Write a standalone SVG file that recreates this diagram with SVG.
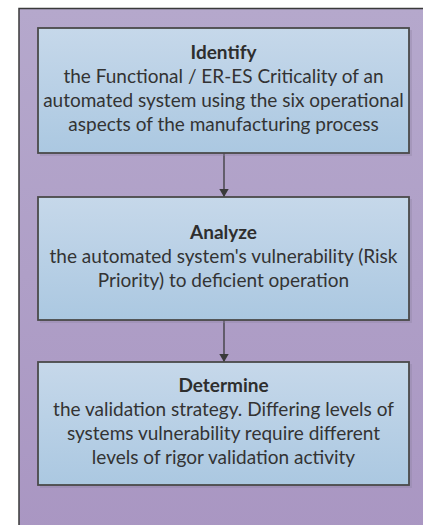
<svg xmlns="http://www.w3.org/2000/svg" width="423" height="525" viewBox="0 0 423 525">
  <defs>
    <linearGradient id="bg" x1="0" y1="0" x2="0" y2="1">
      <stop offset="0" stop-color="#b5a8cc"/>
      <stop offset="1" stop-color="#a996c2"/>
    </linearGradient>
    <linearGradient id="box" x1="0" y1="0" x2="0" y2="1">
      <stop offset="0" stop-color="#c6d8ea"/>
      <stop offset="1" stop-color="#abc8e1"/>
    </linearGradient>
    <marker id="arrow" markerWidth="10" markerHeight="12" refX="8.5" refY="5.5" orient="auto" markerUnits="userSpaceOnUse">
      <path d="M0,0.5 L8.5,5.5 L0,10.5 Z" fill="#3a3a3a"/>
    </marker>
  </defs>
  <style>
    .frame { fill: url(#bg); stroke: #3a3a3a; stroke-width: 1.5; }
    .node { fill: url(#box); stroke: #4a4a4a; stroke-width: 1.8; }
    .shadow { fill: #8c80a0; opacity: 0.35; }
    .title { font-family: Lato, "Liberation Sans", sans-serif; font-size: 19px; font-weight: bold; fill: #2e2e2e; text-anchor: middle; }
    .body { font-family: Lato, "Liberation Sans", sans-serif; font-size: 19px; fill: #333333; text-anchor: middle; }
    .conn { stroke: #3a3a3a; stroke-width: 1.3; fill: none; }
  </style>
  <rect class="frame" x="19" y="8.5" width="420" height="530"/>

  <g id="connectors">
    <line class="conn" x1="224" y1="153" x2="224" y2="197" marker-end="url(#arrow)"/>
    <line class="conn" x1="224" y1="320" x2="224" y2="362" marker-end="url(#arrow)"/>
  </g>

  <g id="node-identify">
    <rect class="shadow" x="40" y="30" width="372" height="126"/>
    <rect class="node" x="38" y="28" width="371" height="125"/>
    <text class="title" x="223.5" y="59">Identify</text>
    <text class="body" x="223.5" y="83">the Functional / ER-ES Criticality of an</text>
    <text class="body" x="223.5" y="107">automated system using the six operational</text>
    <text class="body" x="223.5" y="131">aspects of the manufacturing process</text>
  </g>

  <g id="node-analyze">
    <rect class="shadow" x="40" y="199" width="372" height="124"/>
    <rect class="node" x="38" y="197" width="371" height="123"/>
    <text class="title" x="223.5" y="239">Analyze</text>
    <text class="body" x="223.5" y="263">the automated system's vulnerability (Risk</text>
    <text class="body" x="223.5" y="287">Priority) to deficient operation</text>
  </g>

  <g id="node-determine">
    <rect class="shadow" x="40" y="364" width="372" height="124"/>
    <rect class="node" x="38" y="362" width="371" height="123"/>
    <text class="title" x="223.5" y="392">Determine</text>
    <text class="body" x="223.5" y="416">the validation strategy. Differing levels of</text>
    <text class="body" x="223.5" y="440">systems vulnerability require different</text>
    <text class="body" x="223.5" y="464">levels of rigor validation activity</text>
  </g>
</svg>
